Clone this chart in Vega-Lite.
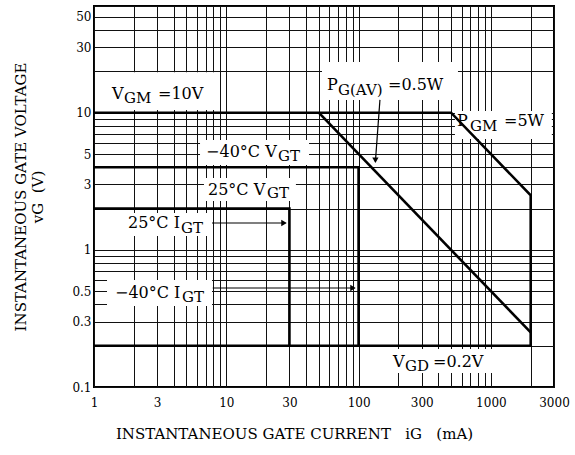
{
  "$schema": "https://vega.github.io/schema/vega-lite/v6.json",
  "width": 460,
  "height": 381,
  "autosize": {"type": "none"},
  "padding": {"left": 94, "top": 6, "right": 21, "bottom": 68},
  "background": "white",
  "title": {"text": "(SM8G43, SM8J43)", "fontSize": 19, "font": "DejaVu Serif", "fontWeight": "normal", "baseline": "alphabetic", "offset": 2, "color": "black"},
  "config": {"font": "DejaVu Serif", "view": {"stroke": "black", "strokeWidth": 2}},
  "datasets": {
    "bounds": [
      {"seg": "A", "o": 1, "i": 1, "v": 10}, {"seg": "A", "o": 2, "i": 500, "v": 10}, {"seg": "A", "o": 3, "i": 2000, "v": 2.5}, {"seg": "A", "o": 4, "i": 2000, "v": 0.2}, {"seg": "A", "o": 5, "i": 1, "v": 0.2},
      {"seg": "B", "o": 1, "i": 50, "v": 10}, {"seg": "B", "o": 2, "i": 2000, "v": 0.25},
      {"seg": "C", "o": 1, "i": 1, "v": 4}, {"seg": "C", "o": 2, "i": 100, "v": 4}, {"seg": "C", "o": 3, "i": 100, "v": 0.2},
      {"seg": "D", "o": 1, "i": 1, "v": 2}, {"seg": "D", "o": 2, "i": 30, "v": 2}, {"seg": "D", "o": 3, "i": 30, "v": 0.2}
    ],
    "arrows": [
      {"seg": "E", "o": 1, "i": 7.8, "v": 1.57}, {"seg": "E", "o": 2, "i": 28, "v": 1.57},
      {"seg": "F", "o": 1, "i": 7.9, "v": 0.527}, {"seg": "F", "o": 2, "i": 93, "v": 0.527},
      {"seg": "G", "o": 1, "i": 145, "v": 12.4}, {"seg": "G", "o": 2, "i": 134, "v": 4.4}
    ],
    "heads": [
      {"i": 27.3, "v": 1.57, "dir": "right"},
      {"i": 90.7, "v": 0.527, "dir": "right"},
      {"i": 134, "v": 4.5, "dir": "down"}
    ],
    "boxes": [
      {"i": 1.03, "i2": 8.2, "v": 10.45, "v2": 19.7},
      {"i": 52.9, "i2": 564, "v": 12.4, "v2": 23.4},
      {"i": 535, "i2": 2890, "v": 6.43, "v2": 10.3},
      {"i": 6.33, "i2": 42.2, "v": 4.16, "v2": 6.32},
      {"i": 6.78, "i2": 33.6, "v": 2.27, "v2": 3.34},
      {"i": 1.686, "i2": 7.53, "v": 1.262, "v2": 1.857},
      {"i": 1.254, "i2": 7.8, "v": 0.39, "v2": 0.603},
      {"i": 172.7, "i2": 1521, "v": 0.1265, "v2": 0.1893}
    ],
    "labels": [
      {"i": 1.368, "v": 12.59, "t": "V", "r": "m"},
      {"i": 1.686, "v": 11.77, "t": "GM", "r": "s"},
      {"i": 3.047, "v": 12.59, "t": "=10V", "r": "m"},
      {"i": 57.7, "v": 14.64, "t": "P", "r": "m"},
      {"i": 69.9, "v": 13.47, "t": "G(AV)", "r": "s"},
      {"i": 166.8, "v": 14.64, "t": "=0.5W", "r": "m"},
      {"i": 554, "v": 8.0, "t": "P", "r": "m"},
      {"i": 695, "v": 7.36, "t": "GM", "r": "s"},
      {"i": 1256, "v": 8.0, "t": "=5W", "r": "m"},
      {"i": 7.03, "v": 4.754, "t": "−40°C V", "r": "m"},
      {"i": 24.6, "v": 4.445, "t": "GT", "r": "s"},
      {"i": 7.27, "v": 2.512, "t": "25°C V", "r": "m"},
      {"i": 20.3, "v": 2.389, "t": "GT", "r": "s"},
      {"i": 1.807, "v": 1.443, "t": "25°C I", "r": "m"},
      {"i": 4.55, "v": 1.327, "t": "GT", "r": "s"},
      {"i": 1.441, "v": 0.4457, "t": "−40°C I", "r": "m"},
      {"i": 4.63, "v": 0.4167, "t": "GT", "r": "s"},
      {"i": 182, "v": 0.1399, "t": "V", "r": "m"},
      {"i": 224, "v": 0.1308, "t": "GD", "r": "s"},
      {"i": 365, "v": 0.1399, "t": "=0.2V", "r": "m"}
    ]
  },
  "encoding": {
    "x": {
      "field": "i", "type": "quantitative",
      "scale": {"type": "log", "domain": [1, 3000], "nice": false},
      "axis": {
        "values": [1, 2, 3, 4, 5, 6, 7, 8, 9, 10, 20, 30, 40, 50, 60, 70, 80, 90, 100, 200, 300, 400, 500, 600, 700, 800, 900, 1000, 2000, 3000],
        "labelExpr": "indexof([1,3,10,30,100,300,1000,3000], datum.value) >= 0 ? datum.label : ''",
        "format": "~g",
        "grid": true, "gridColor": "#111111", "gridWidth": 1,
        "ticks": false, "tickSize": 0, "domain": false,
        "labelFlush": false, "labelOverlap": false,
        "labelFontSize": 12, "labelColor": "black", "labelPadding": 10, "labelFont": "DejaVu Serif",
        "title": "INSTANTANEOUS GATE CURRENT\u00a0\u00a0\u00a0iG\u00a0\u00a0\u00a0(mA)",
        "titleX": 200,
        "titleFontSize": 15, "titleFontWeight": "normal", "titleColor": "black", "titlePadding": 18, "titleFont": "DejaVu Serif"
      }
    },
    "y": {
      "field": "v", "type": "quantitative",
      "scale": {"type": "log", "domain": [0.1, 60], "nice": false},
      "axis": {
        "values": [0.1, 0.2, 0.3, 0.4, 0.5, 0.6, 0.7, 0.8, 0.9, 1, 2, 3, 4, 5, 6, 7, 8, 9, 10, 20, 30, 40, 50, 60],
        "labelExpr": "indexof([0.1,0.3,0.5,1,3,5,10,30,50], datum.value) >= 0 ? datum.label : ''",
        "format": "~g",
        "grid": true, "gridColor": "#111111", "gridWidth": 1,
        "ticks": false, "tickSize": 0, "domain": false,
        "labelFlush": false, "labelOverlap": false,
        "labelFontSize": 12, "labelColor": "black", "labelPadding": 3, "labelFont": "DejaVu Serif",
        "title": ["INSTANTANEOUS GATE VOLTAGE", "vG\u00a0\u00a0(V)"],
        "titleFontSize": 15, "titleLineHeight": 17, "titleFontWeight": "normal", "titleColor": "black", "titlePadding": 26, "titleFont": "DejaVu Serif"
      }
    }
  },
  "layer": [
    {
      "data": {"name": "boxes"},
      "mark": {"type": "rect", "fill": "white", "strokeWidth": 0},
      "encoding": {"x2": {"field": "i2"}, "y2": {"field": "v2"}}
    },
    {
      "data": {"name": "bounds"},
      "mark": {"type": "line", "color": "black", "strokeWidth": 2.6, "strokeJoin": "miter", "strokeCap": "butt"},
      "encoding": {"detail": {"field": "seg", "type": "nominal"}, "order": {"field": "o", "type": "quantitative"}}
    },
    {
      "data": {"name": "arrows"},
      "mark": {"type": "line", "color": "black", "strokeWidth": 1.2},
      "encoding": {"detail": {"field": "seg", "type": "nominal"}, "order": {"field": "o", "type": "quantitative"}}
    },
    {
      "data": {"name": "heads"},
      "mark": {"type": "point", "filled": true, "color": "black", "size": 40, "opacity": 1},
      "encoding": {"shape": {"field": "dir", "type": "nominal", "scale": {"domain": ["right", "down"], "range": ["triangle-right", "triangle-down"]}, "legend": null}}
    },
    {
      "data": {"name": "labels"},
      "transform": [{"filter": "datum.r == 'm'"}],
      "mark": {"type": "text", "align": "left", "baseline": "alphabetic", "fontSize": 16, "color": "black", "font": "DejaVu Serif"},
      "encoding": {"text": {"field": "t"}}
    },
    {
      "data": {"name": "labels"},
      "transform": [{"filter": "datum.r == 's'"}],
      "mark": {"type": "text", "align": "left", "baseline": "alphabetic", "fontSize": 15, "color": "black", "font": "DejaVu Serif"},
      "encoding": {"text": {"field": "t"}}
    }
  ]
}
